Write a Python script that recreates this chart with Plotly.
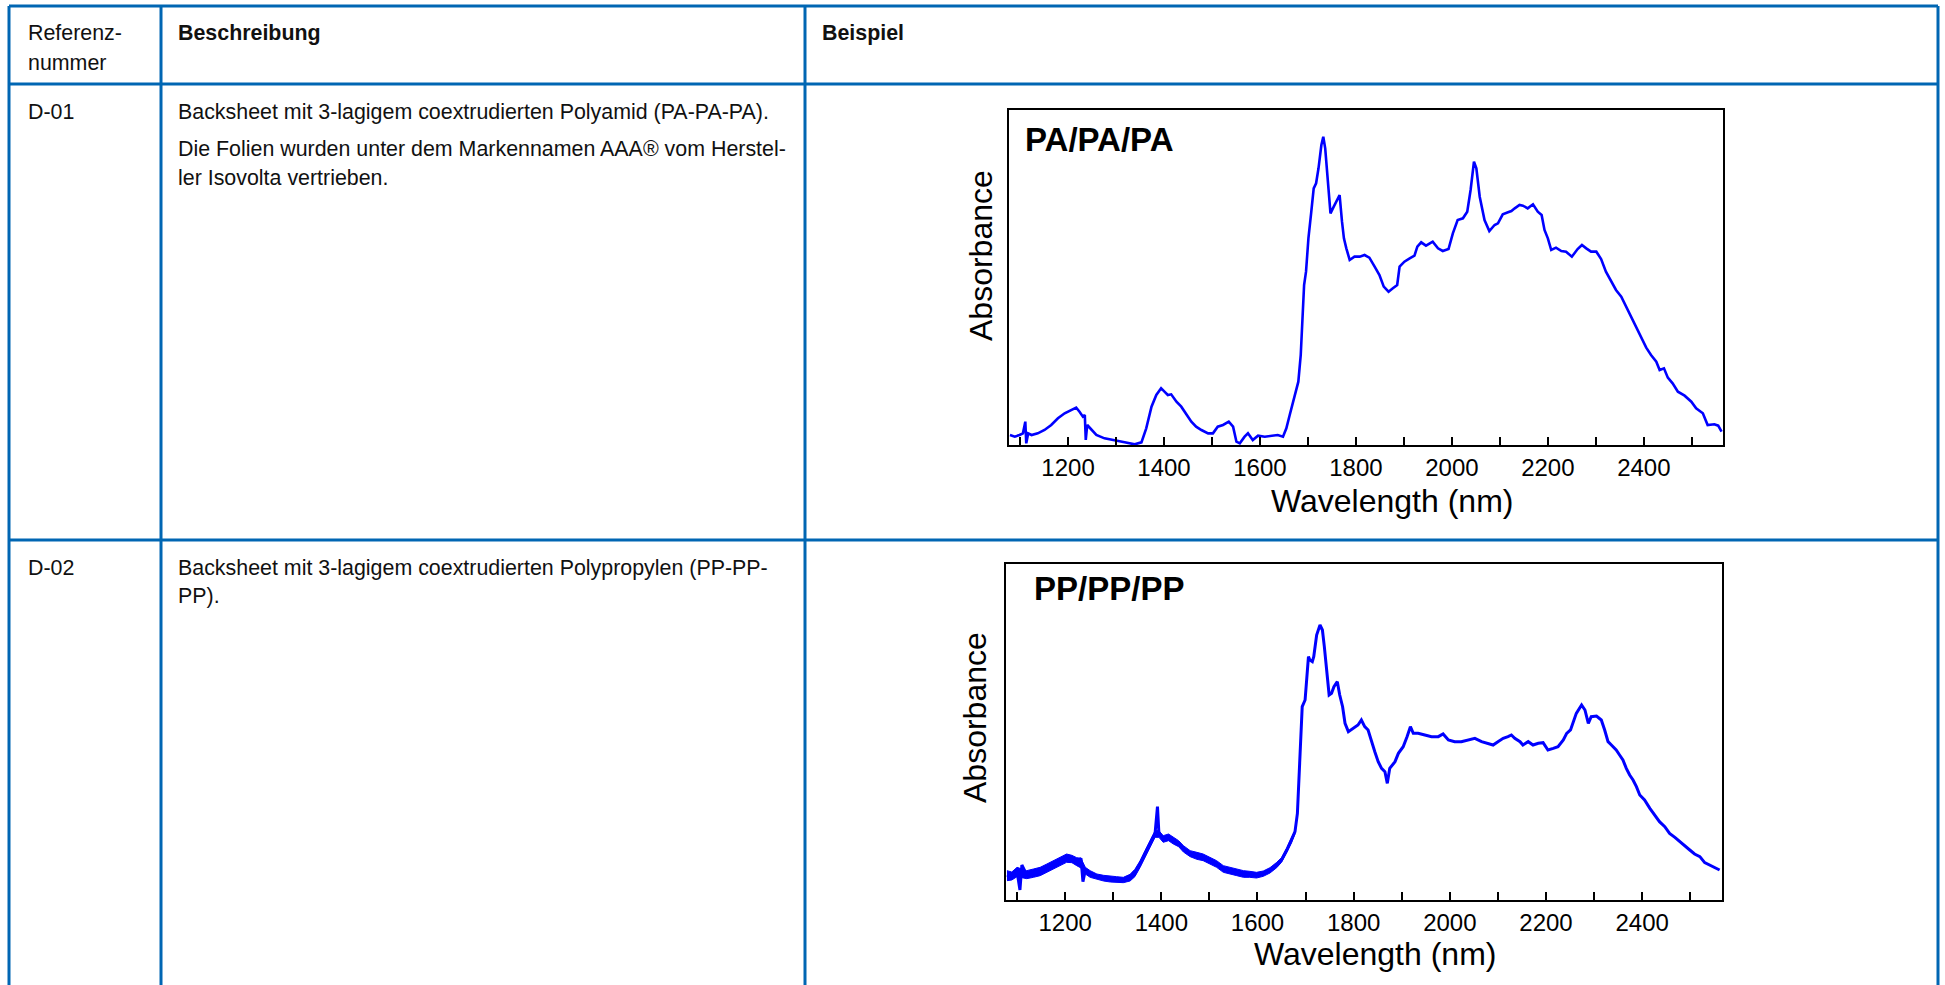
import plotly.graph_objects as go

W, H = 1945, 985
FONT = "Liberation Sans, Arial, sans-serif"
TABLE_BLUE = "#0066B3"
LINE_BLUE = "#0000FF"

# ---------------- data ----------------
ticks_nm = [1200, 1400, 1600, 1800, 2000, 2200, 2400]

pa_nm = [1079, 1089, 1099, 1106, 1111, 1113, 1117, 1124, 1137, 1151, 1165, 1179, 1193, 1207, 1217,
         1224, 1231, 1235, 1237, 1240, 1249, 1259, 1276, 1297, 1318, 1339, 1353, 1363, 1374, 1384,
         1394, 1401, 1408, 1415, 1426, 1436, 1447, 1457, 1467, 1478, 1492, 1502, 1512, 1523, 1535,
         1544, 1551, 1558, 1568, 1575, 1585, 1596, 1610, 1624, 1637, 1648, 1655, 1662, 1669, 1676,
         1680, 1685, 1688, 1692, 1696, 1701, 1707, 1712, 1717, 1722, 1728, 1732, 1736, 1742, 1747,
         1752, 1761, 1766, 1771, 1775, 1780, 1787, 1797, 1808, 1818, 1828, 1839, 1849, 1858, 1868,
         1877, 1886, 1891, 1901, 1912, 1922, 1928, 1936, 1946, 1960, 1971, 1981, 1993, 2002, 2012,
         2023, 2032, 2039, 2046, 2051, 2058, 2068, 2078, 2089, 2096, 2106, 2117, 2124, 2131, 2141,
         2148, 2158, 2169, 2179, 2187, 2193, 2200, 2207, 2217, 2228, 2238, 2250, 2262, 2271, 2280,
         2290, 2301, 2311, 2321, 2332, 2342, 2353, 2363, 2374, 2384, 2394, 2405, 2415, 2426, 2433,
         2442, 2450, 2460, 2471, 2485, 2499, 2509, 2523, 2533, 2547, 2555, 2562]
pa_abs = [30, 25, 30, 35, 70, 5, 35, 30, 35, 45, 60, 80, 95, 105, 112,
          100, 85, 90, 15, 60, 45, 30, 20, 15, 8, 2, 8, 50, 115, 150,
          170, 160, 150, 152, 130, 115, 90, 70, 55, 45, 35, 35, 55, 60, 70,
          55, 10, 5, 25, 35, 15, 28, 25, 27, 30, 25, 50, 90, 130, 170,
          190, 270, 370, 480, 520, 620, 700, 770, 785, 830, 900, 925, 890, 780, 695,
          710, 735, 750, 670, 620, 590, 555, 565, 565, 570, 562, 535, 510, 475, 460,
          470, 480, 535, 550, 560, 568, 595, 608, 598, 610, 590, 582, 588, 635, 675,
          680, 700, 765, 850, 830, 745, 675, 642, 660, 665, 692, 698, 702, 710, 720,
          718, 710, 722, 700, 690, 645, 620, 585, 592, 582, 580, 565, 588, 600, 590,
          580, 580, 558, 520, 490, 465, 445, 415, 380, 355, 320, 292, 270, 250, 225,
          230, 202, 185, 160, 148, 130, 110, 95, 60, 62, 58, 40]

pp_nm = [1079, 1089, 1100, 1106, 1110, 1120, 1134, 1148, 1162, 1176, 1190, 1203, 1214, 1224, 1233,
         1237, 1242, 1252, 1266, 1280, 1294, 1307, 1321, 1335, 1345, 1356, 1366, 1377, 1387, 1392,
         1395, 1404, 1415, 1425, 1436, 1446, 1460, 1474, 1487, 1501, 1515, 1529, 1543, 1557, 1571,
         1584, 1598, 1612, 1626, 1640, 1650, 1661, 1671, 1678, 1683, 1686, 1690, 1693, 1699, 1702,
         1706, 1709, 1714, 1717, 1723, 1730, 1735, 1739, 1744, 1749, 1754, 1759, 1766, 1771, 1777,
         1782, 1789, 1799, 1809, 1816, 1823, 1830, 1837, 1844, 1851, 1858, 1865, 1870, 1875, 1886,
         1893, 1903, 1911, 1918, 1924, 1934, 1948, 1962, 1976, 1986, 1997, 2010, 2024, 2038, 2052,
         2066, 2080, 2090, 2100, 2111, 2121, 2128, 2135, 2146, 2152, 2163, 2173, 2184, 2194, 2204,
         2215, 2225, 2236, 2243, 2251, 2256, 2263, 2274, 2281, 2288, 2294, 2305, 2315, 2322, 2329,
         2336, 2346, 2353, 2360, 2367, 2374, 2381, 2388, 2395, 2405, 2416, 2426, 2436, 2447, 2457,
         2468, 2478, 2488, 2499, 2509, 2520, 2530, 2540, 2551, 2561]
pp_abs = [75, 70, 85, 30, 105, 75, 80, 85, 95, 105, 120, 130, 125, 115, 125,
          55, 90, 80, 70, 65, 62, 62, 60, 65, 80, 110, 140, 170, 200, 280,
          200, 185, 190, 180, 170, 155, 140, 135, 130, 120, 110, 95, 90, 85, 80,
          78, 75, 80, 90, 105, 120, 150, 180, 205, 260, 370, 500, 580, 600, 660,
          730, 720, 715, 730, 795, 825, 810, 760, 680, 615, 620, 640, 655, 615, 580,
          530, 505, 515, 525, 540, 520, 510, 475, 445, 415, 395, 385, 350, 395, 415,
          440, 460, 490, 520, 500, 500, 495, 490, 490, 498, 480, 475, 475, 480, 485,
          475, 470, 465, 475, 485, 490, 495, 485, 475, 465, 475, 465, 470, 472, 450,
          455, 460, 480, 500, 510, 530, 560, 585, 570, 530, 550, 552, 540, 510, 475,
          465, 450, 435, 420, 395, 375, 360, 340, 315, 300, 275, 255, 235, 220, 200,
          188, 175, 162, 150, 138, 130, 112, 105, 95, 90]

# noise band of the PP spectrum in the low-absorbance region (upper / lower edge)
pp_band_nm = [1079, 1089, 1100, 1120, 1134, 1148, 1162, 1176, 1190, 1203, 1214, 1224, 1233, 1242,
              1252, 1266, 1280, 1294, 1307, 1321, 1335, 1345, 1356, 1366, 1377, 1387, 1395, 1404,
              1415, 1425, 1436, 1446, 1460, 1474, 1487, 1501, 1515, 1529, 1543, 1557, 1571, 1584,
              1598, 1612, 1626, 1640, 1650, 1661, 1671, 1678]
pp_band_hi = [88, 84, 98, 88, 93, 98, 108, 118, 128, 138, 134, 127, 125, 98,
              88, 78, 74, 71, 70, 68, 77, 92, 118, 148, 178, 208, 208, 193,
              198, 188, 178, 163, 148, 143, 138, 128, 118, 103, 98, 93, 88, 86,
              83, 87, 97, 113, 127, 157, 186, 209]
pp_band_lo = [58, 60, 70, 64, 68, 73, 83, 93, 103, 113, 112, 103, 96, 78,
              68, 62, 57, 54, 52, 52, 57, 70, 98, 128, 158, 188, 188, 173,
              178, 168, 160, 144, 130, 122, 118, 108, 98, 83, 78, 73, 68, 68,
              66, 71, 81, 97, 113, 143, 172, 198]

panels = [
    dict(name="PA/PA/PA", x=pa_nm, y=pa_abs, xr=[1077, 2565], yr=[0, 1005],
         box=(1009, 1723, 110, 445), label=(1023, 140), ytitle=(981, 256),
         xtitle=(1392, 501), width=2.6),
    dict(name="PP/PP/PP", x=pp_nm, y=pp_abs, xr=[1077, 2566], yr=[0, 1008],
         box=(1006, 1722, 564, 900), label=(1032, 588), ytitle=(975, 717),
         xtitle=(1375, 954), width=3.0),
]


def px(x):
    return x / W


def py(y):
    return 1 - y / H


fig = go.Figure()

# PP noise band
fig.add_trace(go.Scatter(
    x=pp_band_nm + pp_band_nm[::-1], y=pp_band_hi + pp_band_lo[::-1],
    xaxis="x2", yaxis="y2", fill="toself", fillcolor=LINE_BLUE,
    line=dict(color=LINE_BLUE, width=1), mode="lines", hoverinfo="skip", showlegend=False))

for i, p in enumerate(panels):
    sfx = "" if i == 0 else str(i + 1)
    fig.add_trace(go.Scatter(x=p["x"], y=p["y"], mode="lines", xaxis="x" + sfx, yaxis="y" + sfx,
                             line=dict(color=LINE_BLUE, width=p["width"]), showlegend=False,
                             name=p["name"]))
    x0, x1, y0, y1 = p["box"]
    fig.update_layout(**{
        "xaxis" + sfx: dict(domain=[px(x0), px(x1)], range=p["xr"], anchor="y" + sfx,
                            showline=True, mirror=True, linecolor="black", linewidth=2.2,
                            showgrid=False, zeroline=False,
                            tickvals=ticks_nm, ticks="inside", ticklen=8, tickwidth=2,
                            tickcolor="black",
                            minor=dict(ticks="inside", dtick=100, tick0=1000, ticklen=8,
                                       tickwidth=2, tickcolor="black"),
                            tickfont=dict(family=FONT, size=24, color="black"),
                            ticklabelstandoff=0),
        "yaxis" + sfx: dict(domain=[py(y1), py(y0)], range=p["yr"], anchor="x" + sfx,
                            showline=True, mirror=True, linecolor="black", linewidth=2.2,
                            showgrid=False, zeroline=False, showticklabels=False, ticks=""),
    })
    fig.add_annotation(x=px(p["label"][0]), y=py(p["label"][1]), xref="paper", yref="paper",
                       text="<b>%s</b>" % p["name"], showarrow=False, xanchor="left",
                       yanchor="middle", font=dict(family=FONT, size=33, color="black"))
    fig.add_annotation(x=px(p["ytitle"][0]), y=py(p["ytitle"][1]), xref="paper", yref="paper",
                       text="Absorbance", textangle=-90, showarrow=False, xanchor="center",
                       yanchor="middle", font=dict(family=FONT, size=32, color="black"))
    fig.add_annotation(x=px(p["xtitle"][0]), y=py(p["xtitle"][1]), xref="paper", yref="paper",
                       text="Wavelength (nm)", showarrow=False, xanchor="center",
                       yanchor="middle", font=dict(family=FONT, size=32, color="black"))

# ---------------- table ----------------
L, R, T = 9, 1938, 6
col1, col2 = 161, 805
row1, row2 = 84, 540
shapes = []
for x in (L, col1, col2, R):
    shapes.append(dict(type="line", xref="paper", yref="paper", x0=px(x), x1=px(x),
                       y0=py(T), y1=py(H + 5), line=dict(color=TABLE_BLUE, width=3)))
for y in (T, row1, row2):
    shapes.append(dict(type="line", xref="paper", yref="paper", x0=px(L), x1=px(R),
                       y0=py(y), y1=py(y), line=dict(color=TABLE_BLUE, width=3)))
fig.update_layout(shapes=shapes)

cells = [
    ("Referenz-", 26, 33, False), ("nummer", 26, 63, False),
    ("Beschreibung", 176, 33, True), ("Beispiel", 820, 33, True),
    ("D-01", 26, 112, False),
    ("Backsheet mit 3-lagigem coextrudierten Polyamid (PA-PA-PA).", 176, 112, False),
    ("Die Folien wurden unter dem Markennamen AAA® vom Herstel-", 176, 149, False),
    ("ler Isovolta vertrieben.", 176, 178, False),
    ("D-02", 26, 568, False),
    ("Backsheet mit 3-lagigem coextrudierten Polypropylen (PP-PP-", 176, 568, False),
    ("PP).", 176, 596, False),
]
for text, x, y, bold in cells:
    fig.add_annotation(x=px(x), y=py(y), xref="paper", yref="paper",
                       text=("<b>%s</b>" % text) if bold else text, showarrow=False,
                       xanchor="left", yanchor="middle",
                       font=dict(family=FONT, size=21.4, color="#111111"))

fig.update_layout(width=W, height=H, autosize=False, margin=dict(l=0, r=0, t=0, b=0),
                  paper_bgcolor="white", plot_bgcolor="white", showlegend=False)

fig.write_html("out.html")
